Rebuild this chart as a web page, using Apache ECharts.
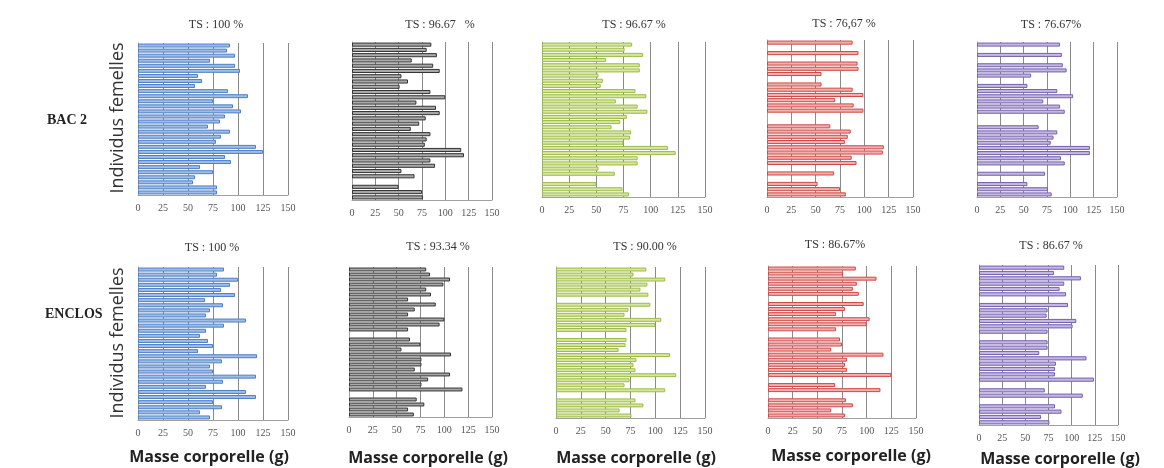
<!DOCTYPE html>
<html>
<head>
<meta charset="utf-8">
<script src="https://cdn.jsdelivr.net/npm/echarts@6/dist/echarts.min.js"></script>
<style>
html,body{margin:0;padding:0;background:#fff;}
#chart{width:1164px;height:468px;}
</style>
</head>
<body>
<div id="chart"></div>
<script>
// Individuals (30 females per group), listed top to bottom
const individus = ['1','2','3','4','5','6','7','8','9','10','11','12','13','14','15','16','17','18','19','20','21','22','23','24','25','26','27','28','29','30'];
const xTicks = [0, 25, 50, 75, 100, 125, 150];

// BAC 2 row (body mass, g) ; null = individual absent
const bac2_p1 = [92,89,97,72,97,102,60,64,57,90,110,75,95,103,87,82,70,92,83,78,118,125,87,93,62,75,57,55,79,79];
const bac2_p2 = [85,80,91,64,87,94,53,60,51,84,100,69,90,94,79,72,63,84,80,78,117,120,84,89,53,67,null,50,75,76];
const bac2_p3 = [83,76,93,59,90,90,52,56,54,86,96,68,88,97,78,72,64,82,81,75,116,123,88,88,52,67,null,50,74,80];
const bac2_p4 = [88,null,94,null,93,94,56,null,56,88,99,70,89,99,null,null,65,86,83,80,120,119,87,92,null,69,null,52,75,81];
const bac2_p5 = [89,null,91,null,92,96,58,null,54,86,103,71,89,94,null,null,66,86,82,79,121,121,90,94,null,73,null,54,76,80];

// ENCLOS row
const enclos_p1 = [86,79,100,92,83,97,67,85,72,68,108,86,68,62,70,75,60,119,84,72,75,118,85,68,108,118,75,84,62,72];
const enclos_p2 = [81,85,106,99,81,86,62,91,69,62,100,95,62,null,64,75,55,107,76,76,69,106,83,76,119,null,71,79,62,68];
const enclos_p3 = [91,78,110,92,85,93,null,95,73,69,106,100,71,null,71,70,63,115,81,78,80,121,74,69,110,null,80,88,64,76];
const enclos_p4 = [89,76,110,90,86,92,null,97,78,69,103,100,69,null,73,75,64,117,80,78,80,125,null,68,114,null,79,86,64,78];
const enclos_p5 = [92,81,110,92,87,94,null,96,74,73,105,101,74,null,74,74,65,116,83,82,82,124,null,71,112,null,82,89,67,76];

const titlesTop = ['TS : 100 %', 'TS : 96.67   %', 'TS : 96.67 %', 'TS : 76,67 %', 'TS : 76.67%'];
const titlesBottom = ['TS : 100 %', 'TS : 93.34 %', 'TS : 90.00 %', 'TS : 86.67%', 'TS : 86.67 %'];
const rowLabels = ['BAC 2', 'ENCLOS'];
const yTitle = 'Individus femelles';
const xTitle = 'Masse corporelle (g)';

const seriesData = [bac2_p1, bac2_p2, bac2_p3, bac2_p4, bac2_p5, enclos_p1, enclos_p2, enclos_p3, enclos_p4, enclos_p5];
const panelTitles = titlesTop.concat(titlesBottom);

// layout (plot areas in px)
const grids = [
  {left:138, top:43, width:150, height:152},
  {left:352, top:42, width:140, height:158},
  {left:542, top:42, width:163, height:155},
  {left:767, top:40, width:146, height:157},
  {left:977, top:42, width:140, height:155},
  {left:138, top:267, width:150, height:153},
  {left:349, top:267, width:143, height:150},
  {left:556, top:267, width:149, height:151},
  {left:768, top:266, width:148, height:152},
  {left:979, top:265, width:139, height:160}
];
const titlePos = [[211,14],[435,14],[629,14],[839,13],[1046,14],[207,237],[433,236],[640,236],[830,234],[1046,235]];
const xTitlePos = [[209,457],[428,458],[636,458],[851,456],[1060,459]];
const palette = [
  {fill:'#9dbde8', border:'#4f7fc4'},
  {fill:'#a8a8a8', border:'#333333'},
  {fill:'#d6e69a', border:'#9bbb4a'},
  {fill:'#f3aeae', border:'#cc4a48'},
  {fill:'#c4b7e2', border:'#7560ac'}
];

const option = {
  animation:false,
  backgroundColor:'#fff',
  title: panelTitles.map((t,i)=>({
    text:t, left:titlePos[i][0], top:titlePos[i][1], textAlign:'center',
    textStyle:{fontFamily:'Liberation Serif', fontSize:12, fontWeight:'normal', color:'#333'}
  })),
  grid: grids,
  xAxis: grids.map((g,i)=>({
    gridIndex:i, type:'value', min:0, max:150, interval:25,
    axisLine:{show:true, lineStyle:{color:'#a0a0a0', width:1}},
    axisTick:{show:false},
    axisLabel:{fontFamily:'Liberation Serif', fontSize:10, color:'#555', margin:8},
    splitLine:{show:true, lineStyle:{color:'#8a8a8a', width:1}}
  })),
  yAxis: grids.map((g,i)=>({
    gridIndex:i, type:'category', data:individus, inverse:true,
    axisLine:{show:true, lineStyle:{color:'#a0a0a0', width:1}},
    axisTick:{show:false}, axisLabel:{show:false}, splitLine:{show:false}
  })),
  series: seriesData.map((d,i)=>({
    type:'bar', xAxisIndex:i, yAxisIndex:i, data:d,
    barWidth:'78%',
    itemStyle:{color:palette[i%5].fill, borderColor:palette[i%5].border, borderWidth:1}
  })),
  graphic: [
    {type:'text', left:47, top:113, style:{text:rowLabels[0], fill:'#222', font:'bold 14px "Liberation Serif"', textAlign:'center', textVerticalAlign:'middle'}},
    {type:'text', left:45, top:307, style:{text:rowLabels[1], fill:'#222', font:'bold 14px "Liberation Serif"', textAlign:'center', textVerticalAlign:'middle'}},
    {type:'text', x:118, y:118, rotation:Math.PI/2, style:{text:yTitle, fill:'#333', font:'18px "Open Sans"', textAlign:'center', textVerticalAlign:'middle'}},
    {type:'text', x:118, y:343, rotation:Math.PI/2, style:{text:yTitle, fill:'#333', font:'18px "Open Sans"', textAlign:'center', textVerticalAlign:'middle'}}
  ].concat(xTitlePos.map(p=>({
    type:'text', x:p[0], y:p[1], style:{text:xTitle, fill:'#222', font:'bold 16px "Open Sans"', textAlign:'center', textVerticalAlign:'middle'}
  })))
};

const chart = echarts.init(document.getElementById('chart'), null, {renderer:'canvas'});
chart.setOption(option);
</script>
</body>
</html>
